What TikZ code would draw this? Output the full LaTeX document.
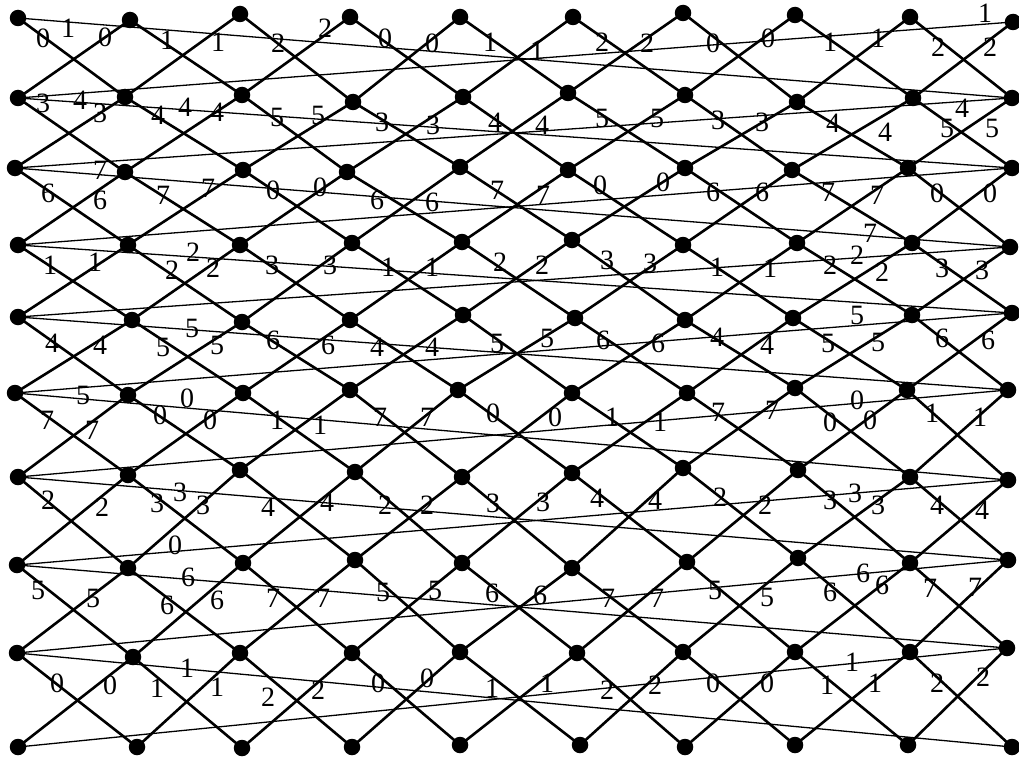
\documentclass[tikz,border=0pt]{standalone}
\usepackage{fontspec}
\setmainfont{Liberation Serif}
\begin{document}
\begin{tikzpicture}[x=1pt,y=-1pt,
  dot/.style={circle,fill=black,draw=none,minimum size=16.5pt,inner sep=0pt},
  diag/.style={line width=2.6pt,black},
  wrap/.style={line width=1.3pt,black},
  lbl/.style={inner sep=0pt,font=\fontsize{28}{28}\selectfont}]
\useasboundingbox (0,0) rectangle (1019,765);
\foreach \c/\r/\x/\y in {
0/0/18/18,1/0/130/20,2/0/240/14,3/0/350/17,4/0/460/17,5/0/573/17,6/0/683/13,7/0/795/15,8/0/910/17,9/0/1013/22,
0/1/18/98,1/1/125/97,2/1/242/95,3/1/353/102,4/1/463/97,5/1/568/93,6/1/685/95,7/1/797/102,8/1/913/98,9/1/1012/98,
0/2/15/168,1/2/125/172,2/2/243/170,3/2/347/172,4/2/460/167,5/2/568/170,6/2/685/168,7/2/792/170,8/2/908/168,9/2/1012/168,
0/3/18/245,1/3/128/245,2/3/240/245,3/3/352/243,4/3/462/242,5/3/572/240,6/3/683/245,7/3/797/243,8/3/912/243,9/3/1010/247,
0/4/18/317,1/4/132/320,2/4/242/322,3/4/350/320,4/4/463/315,5/4/575/318,6/4/685/320,7/4/793/318,8/4/912/315,9/4/1012/313,
0/5/15/393,1/5/128/395,2/5/243/393,3/5/350/390,4/5/458/390,5/5/572/393,6/5/687/393,7/5/795/388,8/5/907/390,9/5/1008/390,
0/6/18/477,1/6/128/475,2/6/240/470,3/6/355/472,4/6/462/477,5/6/572/473,6/6/683/468,7/6/798/470,8/6/910/477,9/6/1008/480,
0/7/17/565,1/7/128/568,2/7/243/563,3/7/355/560,4/7/462/563,5/7/572/568,6/7/687/562,7/7/798/558,8/7/910/563,9/7/1008/560,
0/8/17/653,1/8/133/657,2/8/240/653,3/8/352/653,4/8/460/652,5/8/577/653,6/8/683/652,7/8/795/652,8/8/910/652,9/8/1007/648,
0/9/18/747,1/9/137/747,2/9/242/748,3/9/352/747,4/9/460/745,5/9/580/745,6/9/685/747,7/9/795/745,8/9/908/745,9/9/1012/747}
  \node[dot] (n-\c-\r) at (\x,\y) {};
\foreach \r [evaluate=\r as \s using int(\r+1)] in {0,...,8} {
  \foreach \c [evaluate=\c as \d using int(\c+1)] in {0,...,8} {
    \draw[diag] (n-\c-\r.center) -- (n-\d-\s.center);
    \draw[diag] (n-\d-\r.center) -- (n-\c-\s.center);
  }
  \draw[wrap] (n-0-\r.center) -- (n-9-\s.center);
  \draw[wrap] (n-9-\r.center) -- (n-0-\s.center);
}
\foreach \x/\y/\t [count=\i] in {
43/38/0,68/28/1,105/37/0,167/40/1,218/42/1,278/43/2,325/28/2,385/38/0,432/43/0,490/42/1,537/50/1,602/42/2,647/43/2,713/43/0,768/38/0,830/42/1,878/38/1,938/47/2,990/47/2,985/13/1,
43/103/3,80/100/4,100/113/3,158/115/4,185/107/4,217/112/4,277/117/5,318/115/5,382/122/3,433/125/3,495/122/4,542/125/4,602/118/5,657/118/5,718/120/3,762/122/3,833/123/4,885/132/4,947/128/5,962/108/4,992/128/5,
48/193/6,100/170/7,100/200/6,163/195/7,208/188/7,273/190/0,320/187/0,377/200/6,432/202/6,497/190/7,543/195/7,600/185/0,663/182/0,713/192/6,762/192/6,828/192/7,877/195/7,870/233/7,937/193/0,990/193/0,
50/265/1,95/262/1,172/270/2,193/252/2,213/268/2,272/265/3,330/265/3,388/267/1,432/267/1,500/262/2,542/265/2,607/260/3,650/263/3,717/267/1,770/268/1,830/265/2,857/255/2,882/272/2,942/268/3,982/270/3,
52/343/4,100/345/4,163/347/5,192/328/5,217/345/5,273/340/6,328/345/6,377/347/4,432/347/4,497/343/5,547/338/5,603/340/6,658/343/6,717/337/4,767/345/4,828/343/5,857/315/5,878/342/5,942/338/6,988/340/6,
83/395/5,47/420/7,92/430/7,160/415/0,187/398/0,210/420/0,277/420/1,320/425/1,380/417/7,427/417/7,493/413/0,555/417/0,612/417/1,660/422/1,718/412/7,772/410/7,830/422/0,857/400/0,870/420/0,932/413/1,980/417/1,
48/500/2,102/507/2,157/503/3,180/492/3,203/505/3,268/507/4,327/502/4,385/505/2,427/505/2,493/503/3,543/502/3,597/498/4,655/500/4,720/497/2,765/505/2,830/500/3,855/493/3,878/505/3,937/505/4,982/510/4,
175/545/0,38/590/5,93/598/5,188/577/6,167/605/6,217/600/6,273/598/7,323/598/7,383/592/5,435/590/5,492/593/6,540/595/6,608/598/7,657/598/7,715/590/5,767/597/5,830/592/6,863/573/6,882/585/6,930/588/7,975/587/7,
57/683/0,110/685/0,157/688/1,187/668/1,217/687/1,268/697/2,318/690/2,378/683/0,427/678/0,492/688/1,547/683/1,607/690/2,655/685/2,713/683/0,767/683/0,827/685/1,852/662/1,875/683/1,937/683/2,983/677/2}
  \node[lbl] (l\i) at (\x,\y) {\t};
\end{tikzpicture}
\end{document}
